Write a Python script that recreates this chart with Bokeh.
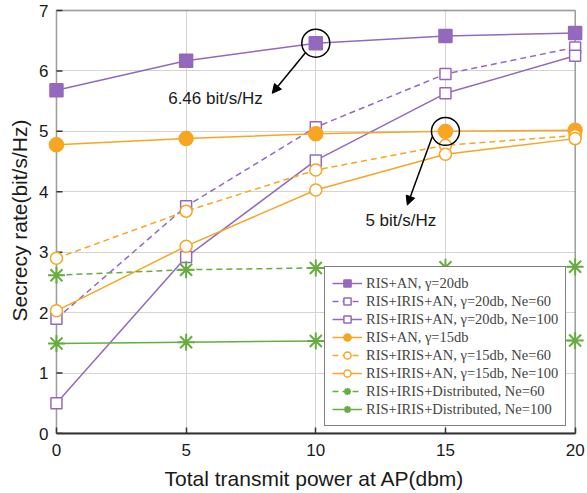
from bokeh.plotting import figure
from bokeh.models import Range1d, FixedTicker, BoxAnnotation, Arrow, NormalHead, Label
from bokeh.core.properties import value
from bokeh.embed import file_html
from bokeh.resources import INLINE

# ---------------- data ----------------
power = [0, 5, 10, 15, 20]
ris_an_20 = [5.68, 6.17, 6.46, 6.58, 6.63]
iris_an_20_ne60 = [1.90, 3.76, 5.07, 5.95, 6.39]
iris_an_20_ne100 = [0.50, 2.92, 4.52, 5.63, 6.25]
ris_an_15 = [4.78, 4.88, 4.96, 5.00, 5.02]
iris_an_15_ne60 = [2.90, 3.68, 4.36, 4.77, 4.93]
iris_an_15_ne100 = [2.03, 3.10, 4.03, 4.62, 4.88]
dist_ne60 = [2.62, 2.71, 2.74, 2.75, 2.76]
dist_ne100 = [1.49, 1.51, 1.53, 1.53, 1.54]

x_ticks = [0, 5, 10, 15, 20]
y_ticks = [0, 1, 2, 3, 4, 5, 6, 7]

labels = [
    "RIS+AN, \u03b3=20db",
    "RIS+IRIS+AN, \u03b3=20db, Ne=60",
    "RIS+IRIS+AN, \u03b3=20db, Ne=100",
    "RIS+AN, \u03b3=15db",
    "RIS+IRIS+AN, \u03b3=15db, Ne=60",
    "RIS+IRIS+AN, \u03b3=15db, Ne=100",
    "RIS+IRIS+Distributed, Ne=60",
    "RIS+IRIS+Distributed, Ne=100",
]

PURPLE = "#9469bd"
ORANGE = "#f8a521"
GREEN = "#66ad3f"
SANS = "Liberation Sans"
SERIF = "Liberation Serif"
AXC = "#333333"
TXT = "#1a1a1a"

p = figure(width=587, height=493,
           x_range=Range1d(-0.5, 20.4), y_range=Range1d(0, 7.05),
           output_backend="svg", toolbar_location=None,
           min_border_left=43, min_border_right=2, min_border_top=7, min_border_bottom=60)
p.outline_line_color = None
p.background_fill_color = "white"

# grid
p.xgrid.ticker = FixedTicker(ticks=x_ticks)
p.ygrid.ticker = FixedTicker(ticks=y_ticks)
p.grid.grid_line_color = "#d4d4d4"
p.grid.grid_line_width = 1
p.xgrid.cross_bounds = (0, 7)
p.ygrid.cross_bounds = (0, 20)

# box (its left edge is the y axis line)
p.add_layout(BoxAnnotation(left=x_ticks[0], right=x_ticks[-1], bottom=y_ticks[0], top=y_ticks[-1],
                           fill_alpha=0, line_color="#222222", line_width=1.8, level="underlay"))

# bottom axis
xa = p.xaxis[0]
xa.ticker = FixedTicker(ticks=x_ticks)
xa.bounds = (x_ticks[0], x_ticks[-1])
xa.major_tick_in = 6
xa.major_tick_out = 0
xa.minor_tick_line_color = None
xa.axis_line_color = AXC
xa.axis_line_width = 2
xa.major_tick_line_color = AXC
xa.major_tick_line_width = 1.5
xa.major_label_text_font = SANS
xa.major_label_text_font_size = "17px"
xa.major_label_text_color = TXT
xa.axis_label = "Total transmit power at AP(dbm)"
xa.axis_label_text_font = SANS
xa.axis_label_text_font_size = "21px"
xa.axis_label_text_font_style = "normal"
xa.axis_label_text_color = TXT
xa.major_label_standoff = 10
xa.axis_label_standoff = 8

# left axis (labels only, at the frame edge, shifted toward the x = 0 line)
ya = p.yaxis[0]
ya.ticker = FixedTicker(ticks=y_ticks)
ya.bounds = (y_ticks[0], y_ticks[-1])
ya.axis_line_color = None
ya.major_tick_line_color = None
ya.minor_tick_line_color = None
ya.major_tick_in = 0
ya.major_tick_out = 0
ya.major_label_text_font = SANS
ya.major_label_text_font_size = "17px"
ya.major_label_text_color = TXT
ya.major_label_standoff = -5
ya.axis_label = "Secrecy rate(bit/s/Hz)"
ya.axis_label_text_font = SANS
ya.axis_label_text_font_size = "21px"
ya.axis_label_text_font_style = "normal"
ya.axis_label_text_color = TXT
ya.axis_label_standoff = 5

# inward y ticks on the x = 0 line
p.ray(x=[x_ticks[0]] * len(y_ticks), y=y_ticks, length=6, length_units="screen", angle=0,
      line_color=AXC, line_width=1.5)

LW = 1.5

def series(y, color, marker, filled, dash, label, size, lw=LW):
    p.line(power, y, line_color=color, line_width=LW, line_dash=dash, legend_label=label)
    p.scatter(power, y, marker=marker, size=size, line_color=color, line_width=lw,
              fill_color=color if filled else "white", legend_label=label)

series(ris_an_20, PURPLE, "square", True, "solid", labels[0], 13)
series(iris_an_20_ne60, PURPLE, "square", False, "6 4", labels[1], 11)
series(iris_an_20_ne100, PURPLE, "square", False, "solid", labels[2], 11)
series(ris_an_15, ORANGE, "circle", True, "solid", labels[3], 14)
series(iris_an_15_ne60, ORANGE, "circle", False, "6 4", labels[4], 12)
series(iris_an_15_ne100, ORANGE, "circle", False, "solid", labels[5], 12)
series(dist_ne60, GREEN, "asterisk", False, "6 4", labels[6], 17, 2)
series(dist_ne100, GREEN, "asterisk", False, "solid", labels[7], 17, 2)

# annotations: highlight circles
p.scatter([power[2], power[3]], [ris_an_20[2], ris_an_15[3]], marker="circle", size=28,
          fill_alpha=0, line_color="black", line_width=1.5)
p.add_layout(Arrow(end=NormalHead(size=9, fill_color="black", line_color="black"),
                   x_start=9.6, y_start=6.30, x_end=8.32, y_end=5.63,
                   line_color="black", line_width=1.5))
p.add_layout(Arrow(end=NormalHead(size=9, fill_color="black", line_color="black"),
                   x_start=14.49, y_start=4.91, x_end=13.53, y_end=3.78,
                   line_color="black", line_width=1.5))
p.add_layout(Label(x=6.13, y=5.54, text="6.46 bit/s/Hz", text_font=SANS, text_font_size="17px",
                   text_align="center", text_baseline="middle", text_color=TXT))
p.add_layout(Label(x=13.28, y=3.53, text="5 bit/s/Hz", text_font=SANS, text_font_size="17px",
                   text_align="center", text_baseline="middle", text_color=TXT))

# legend
lg = p.legend[0]
lg.location = (281, 7)
lg.label_text_font = SERIF
lg.label_text_font_size = "14.5px"
lg.label_height = 18
lg.glyph_height = 18
lg.glyph_width = 30
lg.spacing = 0
lg.padding = 7
lg.margin = 0
lg.label_standoff = 4
lg.border_line_color = "black"
lg.border_line_width = 1
lg.background_fill_alpha = 1

open("out.html", "w").write(file_html(p, INLINE))
